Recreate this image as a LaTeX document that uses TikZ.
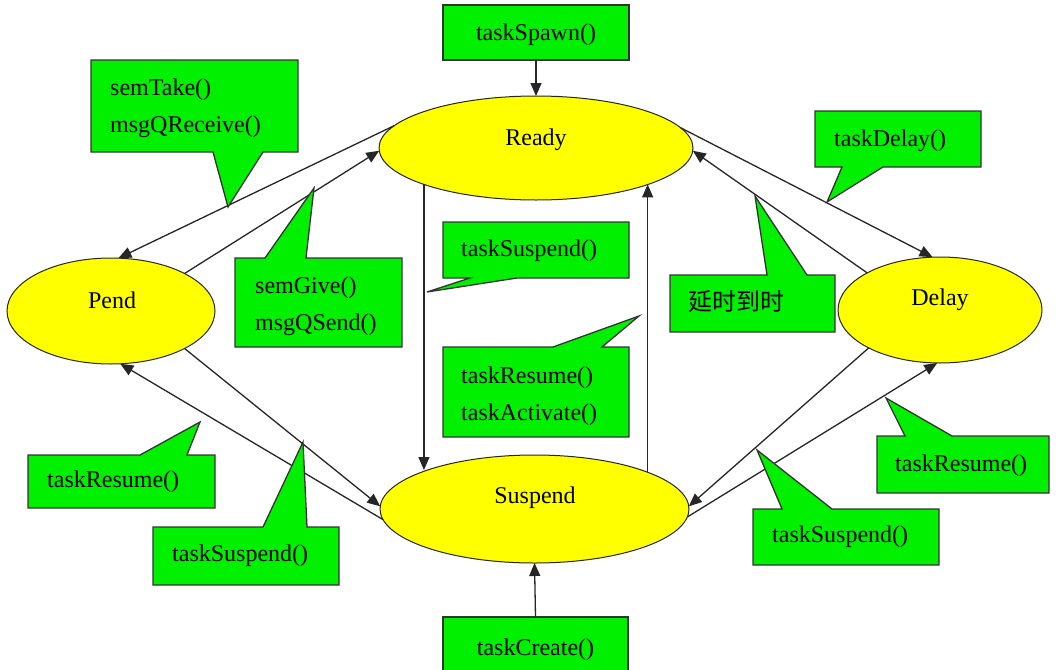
\documentclass[tikz,border=0pt]{standalone}
\usepackage{fontspec}
\setmainfont{Liberation Serif}
\newfontfamily\cjk{Noto Sans CJK SC}
\usetikzlibrary{shapes.geometric,arrows.meta,calc}
\definecolor{boxgreen}{RGB}{0,240,0}
\definecolor{stateyellow}{RGB}{255,255,0}
\begin{document}
\begin{tikzpicture}[x=1pt,y=-1pt,
  font=\fontsize{24}{28}\selectfont,
  state/.style={ellipse, draw=black!85, line width=1pt, fill=stateyellow, inner sep=0pt, outer sep=0pt},
  callout/.style={draw=black!80, line width=1.3pt, fill=boxgreen, line join=miter},
  boxnode/.style={draw=black!80, line width=1.3pt, fill=boxgreen, inner sep=0pt, outer sep=0pt},
  lbl/.style={anchor=west, inner sep=0pt},
  stlbl/.style={inner sep=0pt},
  flow/.style={draw=black!85, line width=1.3pt, -{Triangle[length=13pt,width=11pt]}}
]
\clip (0,0) rectangle (1056,669);
\fill[white] (0,0) rectangle (1056,669);

% states
\node[state, minimum width=314pt, minimum height=104pt] (ready) at (536,148) {};
\node[state, minimum width=208pt, minimum height=106pt] (pend) at (111,311) {};
\node[state, minimum width=204pt, minimum height=106pt] (delay) at (940,310) {};
\node[state, minimum width=309pt, minimum height=108pt] (suspend) at (534.5,509) {};
\node[stlbl] (readyt) at (536,140) {Ready};
\node[stlbl] (pendt) at (112,300) {Pend};
\node[stlbl] (delayt) at (940,300) {Delay};
\node[stlbl] (suspendt) at (535,498) {Suspend};

% creation boxes
\node[boxnode, minimum width=186pt, minimum height=55pt] (spawn) at (536,32.5) {};
\node[stlbl] (spawnt) at (536,35) {taskSpawn()};
\node[boxnode, minimum width=185pt, minimum height=66pt] (create) at (535.5,650) {};
\node[stlbl] (createt) at (535.5,650) {taskCreate()};

% transitions
\draw[flow] (spawn.south) -- (ready.north);
\draw[flow] (create.north) -- (suspend.south);
\draw[flow] (ready.171.4) -- (pend.82.5);
\draw[flow] (pend.27.8) -- (ready.181.5);
\draw[flow] (ready.8.6) -- (delay.98.6);
\draw[flow] (delay.153.1) -- (ready.-1.5);
\draw[flow] (pend.-27.8) -- (suspend.179.3);
\draw[flow] (suspend.184.9) -- (pend.-80.4);
\draw[flow] (delay.208.1) -- (suspend.1.5);
\draw[flow] (suspend.-3.4) -- (delay.-93.2);
\draw[flow] (ready.198.9) -- (ready.198.9 |- suspend.160.2);
\draw[flow] (suspend.18.8) -- (suspend.18.8 |- ready.-18.9);

% callouts
\draw[callout] (91,60) -- (298,60) -- (298,152) -- (263,152) -- (228,207) -- (213,152) -- (91,152) -- cycle;
\node[lbl] (semtake) at (110,90) {semTake()};
\node[lbl] (msgqrecv) at (110,127) {msgQReceive()};

\draw[callout] (815,111) -- (981,111) -- (981,167) -- (883,167) -- (827,202) -- (842,167) -- (815,167) -- cycle;
\node[lbl] (taskdelay) at (834,141) {taskDelay()};

\draw[callout] (235,258) -- (265,258) -- (314,188) -- (306,258) -- (402,258) -- (402,347) -- (235,347) -- cycle;
\node[lbl] (semgive) at (255,288) {semGive()};
\node[lbl] (msgqsend) at (255,325) {msgQSend()};

\draw[callout] (670,275) -- (767,275) -- (755,196) -- (807,275) -- (835,275) -- (835,332) -- (670,332) -- cycle;
\node[lbl] (timeout) at (688,302) {\cjk 延时到时};

\draw[callout] (443,222) -- (629,222) -- (629,278) -- (517,278) -- (427,292) -- (470,278) -- (443,278) -- cycle;
\node[lbl] (suspmid) at (461,251) {taskSuspend()};

\draw[callout] (443,347) -- (553,347) -- (639,316) -- (602,347) -- (629,347) -- (629,437) -- (443,437) -- cycle;
\node[lbl] (resmid) at (461,378) {taskResume()};
\node[lbl] (actmid) at (461,415) {taskActivate()};

\draw[callout] (28,455) -- (140,455) -- (200,422) -- (187,455) -- (215,455) -- (215,508) -- (28,508) -- cycle;
\node[lbl] (resleft) at (47,482) {taskResume()};

\draw[callout] (153,527) -- (263,527) -- (303,442) -- (307,527) -- (339,527) -- (339,585) -- (153,585) -- cycle;
\node[lbl] (suspleft) at (172,556) {taskSuspend()};

\draw[callout] (877,436) -- (905,436) -- (886,398) -- (952,436) -- (1049,436) -- (1049,493) -- (877,493) -- cycle;
\node[lbl] (resright) at (895,466) {taskResume()};

\draw[callout] (753,509) -- (782,509) -- (757,450) -- (832,509) -- (939,509) -- (939,565) -- (753,565) -- cycle;
\node[lbl] (suspright) at (772,537) {taskSuspend()};
\end{tikzpicture}
\end{document}
